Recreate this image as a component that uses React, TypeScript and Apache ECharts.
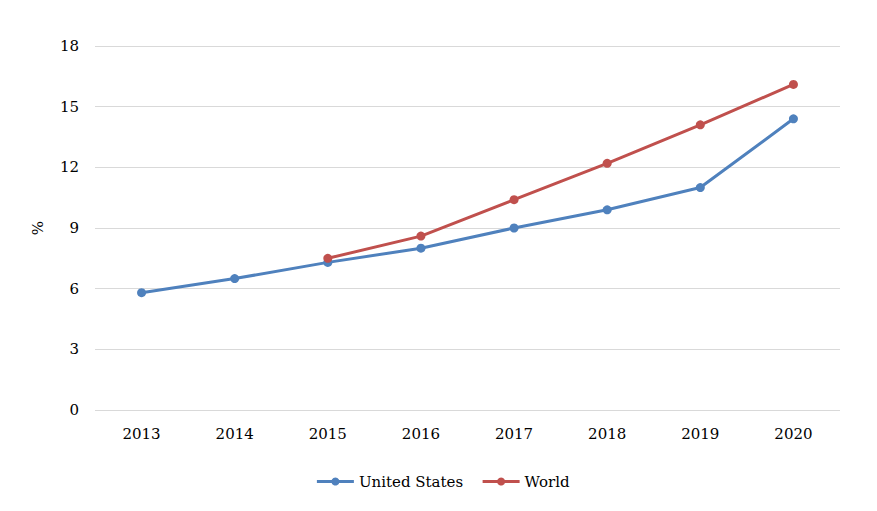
import React, { useEffect, useRef } from "react";
import * as echarts from "echarts";

const years = ["2013", "2014", "2015", "2016", "2017", "2018", "2019", "2020"];
const usValues = [5.8, 6.5, 7.3, 8.0, 9.0, 9.9, 11.0, 14.4];
const worldValues: (number | null)[] = [null, null, 7.5, 8.6, 10.4, 12.2, 14.1, 16.1];

const FONT = "DejaVu Serif";

export default function App() {
  const ref = useRef<HTMLDivElement>(null);
  useEffect(() => {
    if (!ref.current) return;
    const chart = echarts.init(ref.current, null, { renderer: "svg" });
    chart.setOption({
      animation: false,
      textStyle: { fontFamily: FONT },
      grid: { left: 87, right: 37, top: 38, bottom: 101 },
      legend: {
        bottom: 17,
        left: "center",
        itemWidth: 37,
        itemHeight: 10,
        itemGap: 18,
        textStyle: { fontFamily: FONT, fontSize: 15, color: "#000" },
        lineStyle: { width: 3 },
        data: ["United States", "World"],
      },
      xAxis: {
        type: "category",
        data: years,
        boundaryGap: true,
        axisLine: { show: false },
        axisTick: { show: false },
        axisLabel: { fontFamily: FONT, fontSize: 15, color: "#000", margin: 16 },
      },
      yAxis: {
        type: "value",
        min: 0,
        max: 18,
        interval: 3,
        name: "%",
        nameLocation: "middle",
        nameRotate: 90,
        nameGap: 50,
        nameTextStyle: { fontFamily: FONT, fontSize: 15, color: "#000" },
        axisLine: { show: false },
        axisTick: { show: false },
        axisLabel: { fontFamily: FONT, fontSize: 15, color: "#000", margin: 16 },
        splitLine: { lineStyle: { color: "#d9d9d9", width: 1 } },
      },
      series: [
        {
          name: "United States",
          type: "line",
          data: usValues,
          color: "#4F81BD",
          symbol: "circle",
          symbolSize: 9,
          lineStyle: { width: 3 },
        },
        {
          name: "World",
          type: "line",
          data: worldValues,
          color: "#C0504D",
          symbol: "circle",
          symbolSize: 9,
          lineStyle: { width: 3 },
        },
      ],
    });
    return () => chart.dispose();
  }, []);
  return <div ref={ref} style={{ width: 869, height: 503 }} />;
}
